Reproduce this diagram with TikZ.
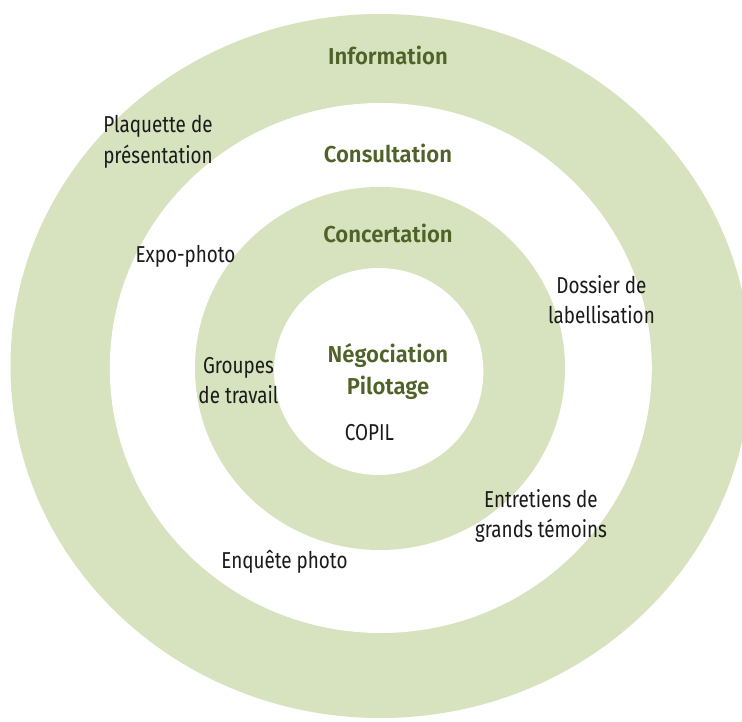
\documentclass[tikz,border=0pt]{standalone}
\usepackage{fontspec}
\newfontfamily\lightfont{Fira Sans}[FakeStretch=0.82]
\newfontfamily\boldfont{Fira Sans SemiBold}[FakeStretch=0.96]
\definecolor{ringgreen}{HTML}{D7E3BE}
\definecolor{titlegreen}{HTML}{4F6228}
\definecolor{labelblack}{HTML}{1A1A1A}
\tikzset{
  ringtitle/.style={font=\boldfont\fontsize{23}{32}\selectfont, text=titlegreen, inner sep=0pt, align=center, anchor=base},
  actlabel/.style={font=\lightfont\fontsize{23}{30.5}\selectfont, text=labelblack, inner sep=0pt, align=center, anchor=base}
}
\begin{document}
\begin{tikzpicture}[x=1pt,y=-1pt]
\useasboundingbox (0,0) rectangle (742,722);
\begin{scope}
\clip (0,0) rectangle (742,722);
\fill[white] (0,0) rectangle (742,722);
\fill[ringgreen] (380.5,366) ellipse [x radius=370, y radius=352];
\fill[white] (380.8,368) ellipse [x radius=271, y radius=265];
\fill[ringgreen] (380,368.5) ellipse [x radius=185, y radius=181.5];
\fill[white] (378.7,371.5) ellipse [x radius=104.7, y radius=103.5];
\end{scope}
\node[ringtitle] (info) at (388,65) {Information};
\node[ringtitle] (consult) at (388,162.5) {Consultation};
\node[ringtitle] (concert) at (388,242.5) {Concertation};
\node[ringtitle] (nego) at (388,394) {Négociation\\Pilotage};
\node[actlabel] (copil) at (369.5,440) {COPIL};
\node[actlabel] (plaq) at (158,163.5) {Plaquette de\\présentation};
\node[actlabel] (expo) at (185.5,263) {Expo-photo};
\node[actlabel] (dossier) at (601.5,323.5) {Dossier de\\labellisation};
\node[actlabel] (groupes) at (238.5,403.5) {Groupes\\de travail};
\node[actlabel] (entre) at (541,537.5) {Entretiens de\\grands témoins};
\node[actlabel] (enq) at (284.5,568) {Enquête photo};
\end{tikzpicture}
\end{document}
